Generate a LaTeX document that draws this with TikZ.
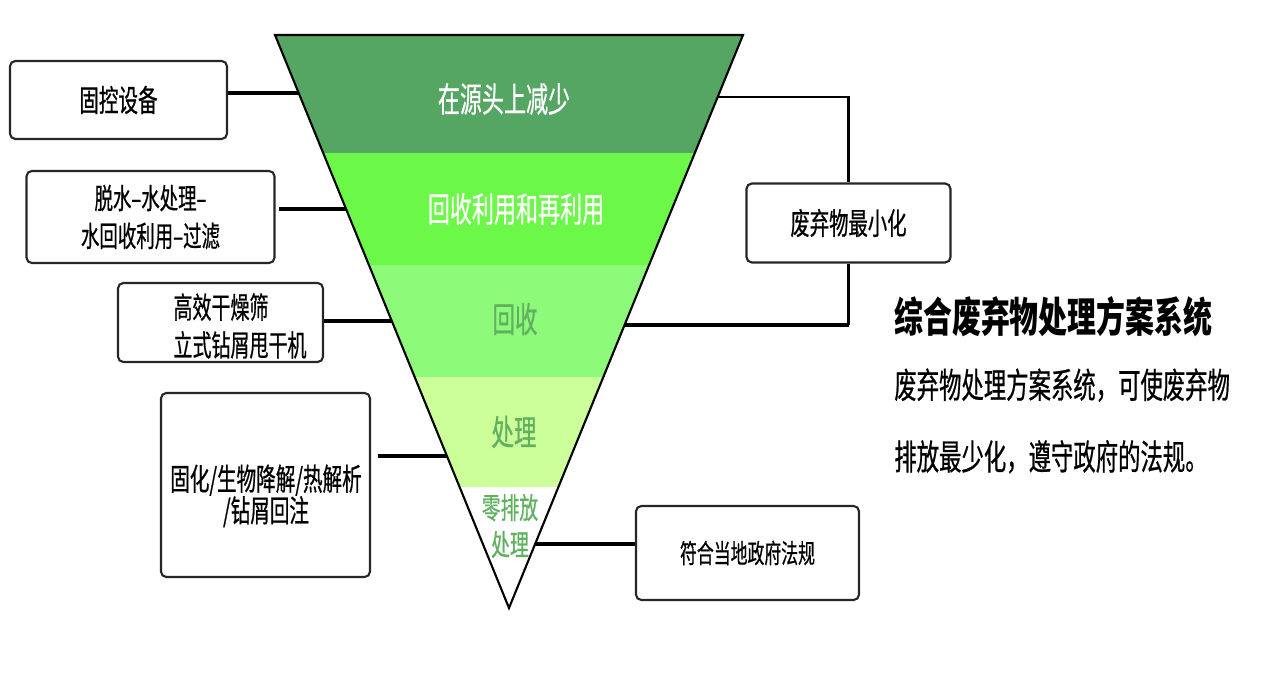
\documentclass[tikz,border=0pt]{standalone}
\usepackage{fontspec}
\newfontfamily\cjk[FakeStretch=0.64,FakeBold=0.6]{Noto Sans CJK SC}
\newfontfamily\cjkhead[FakeStretch=0.7]{Noto Sans CJK SC}
\usetikzlibrary{calc}
\definecolor{bandA}{RGB}{84,166,98}
\definecolor{bandB}{RGB}{108,248,72}
\definecolor{bandC}{RGB}{142,250,122}
\definecolor{bandD}{RGB}{204,255,153}
\definecolor{txtgreen}{RGB}{96,176,96}
\begin{document}
\begin{tikzpicture}[x=0.02cm,y=-0.02cm,font=\cjk,
  box/.style={draw=black!85,line width=1.2pt,rounded corners=3pt,inner sep=0pt,fill=white},
  link/.style={line width=2.8pt},
  thinlink/.style={line width=1.2pt}]
  \useasboundingbox (0,0) rectangle (1269,678);
  % funnel
  \coordinate (tl) at (275,35);
  \coordinate (tr) at (743,35);
  \coordinate (ap) at (509,608);
  \begin{scope}
    \clip (tl) -- (tr) -- (ap) -- cycle;
    \fill[bandA] (250,35) rectangle (770,153);
    \fill[bandB] (250,153) rectangle (770,265);
    \fill[bandC] (250,265) rectangle (770,377);
    \fill[bandD] (250,377) rectangle (770,487);
  \end{scope}
  \draw[line width=1.2pt] (tl) -- (tr) -- (ap) -- cycle;
  \node[text=white,font=\cjk\fontsize{19.6pt}{22pt}\selectfont] (s1) at (504,99) {在源头上减少};
  \node[text=white,font=\cjk\fontsize{19.6pt}{22pt}\selectfont] (s2) at (516,209) {回收利用和再利用};
  \node[text=txtgreen,font=\cjk\fontsize{20pt}{22pt}\selectfont] (s3) at (515,319) {回收};
  \node[text=txtgreen,font=\cjk\fontsize{20pt}{22pt}\selectfont] (s4) at (514,432) {处理};
  \node[text=txtgreen,align=center,font=\cjk\fontsize{16.7pt}{21pt}\selectfont] (s5) at (510,526) {零排放\\处理};
  \coordinate (e1) at ($(tl)!0.1012!(ap)$);
  \coordinate (e2) at ($(tl)!0.3037!(ap)$);
  \coordinate (e3) at ($(tl)!0.4991!(ap)$);
  \coordinate (e4) at ($(tl)!0.7347!(ap)$);
  \coordinate (e5) at ($(tr)!0.1082!(ap)$);
  \coordinate (e6) at ($(tr)!0.5061!(ap)$);
  \coordinate (e7) at ($(tr)!0.8883!(ap)$);
  % left boxes
  \node[box,minimum width=4.34cm,minimum height=1.56cm,font=\cjk\fontsize{17.4pt}{19pt}\selectfont] (b1) at (118.5,100) {固控设备};
  \node[box,minimum width=4.96cm,minimum height=1.84cm,align=center,font=\cjk\fontsize{16.4pt}{21.5pt}\selectfont] (b2) at (150.5,217) {脱水–水处理–\\水回收利用–过滤};
  \node[box,minimum width=4.1cm,minimum height=1.58cm] (b3) at (220.5,322.5) {};
  \node[align=left,inner sep=0pt,font=\cjk\fontsize{16.9pt}{21.5pt}\selectfont] (t3) at (240,326) {高效干燥筛\\立式钻屑甩干机};
  \node[box,minimum width=4.18cm,minimum height=3.68cm] (b4) at (265.5,485) {};
  \node[align=center,inner sep=0pt,font=\cjk\fontsize{17.4pt}{18pt}\selectfont] (t4) at (266,496) {固化/生物降解/热解析\\/钻屑回注};
  \draw[link] (b1.east |- e1) -- (e1);
  \draw[link] ([xshift=2pt]b2.east |- e2) -- (e2);
  \draw[link] (b3.east |- e3) -- (e3);
  \draw[link] ([xshift=0.13cm]b4.east |- e4) -- (e4);
  % right side
  \node[box,minimum width=4.08cm,minimum height=1.58cm,font=\cjk\fontsize{17.2pt}{18pt}\selectfont] (b5) at (848.5,223) {废弃物最小化};
  \node[box,minimum width=4.46cm,minimum height=1.88cm,font=\cjk\fontsize{15pt}{16pt}\selectfont] (b6) at (747.5,553) {符合当地政府法规};
  \draw[thinlink] (e5) -| (b5.north);
  \draw[thinlink] (b5.south) -- (b5.south |- e6);
  \draw[link] (b5.south |- e6) -- (e6);
  \draw[link] (e7) -- (b6.west |- e7);
  \node[anchor=west,inner sep=0pt,font=\cjkhead\bfseries\fontsize{23.5pt}{26pt}\selectfont] (title) at (894,317) {综合废弃物处理方案系统};
  \node[anchor=west,inner sep=0pt,align=left,font=\cjk\fontsize{19.9pt}{40.8pt}\selectfont] (desc) at (894,421) {废弃物处理方案系统，可使废弃物\\排放最少化，遵守政府的法规。};
\end{tikzpicture}
\end{document}
